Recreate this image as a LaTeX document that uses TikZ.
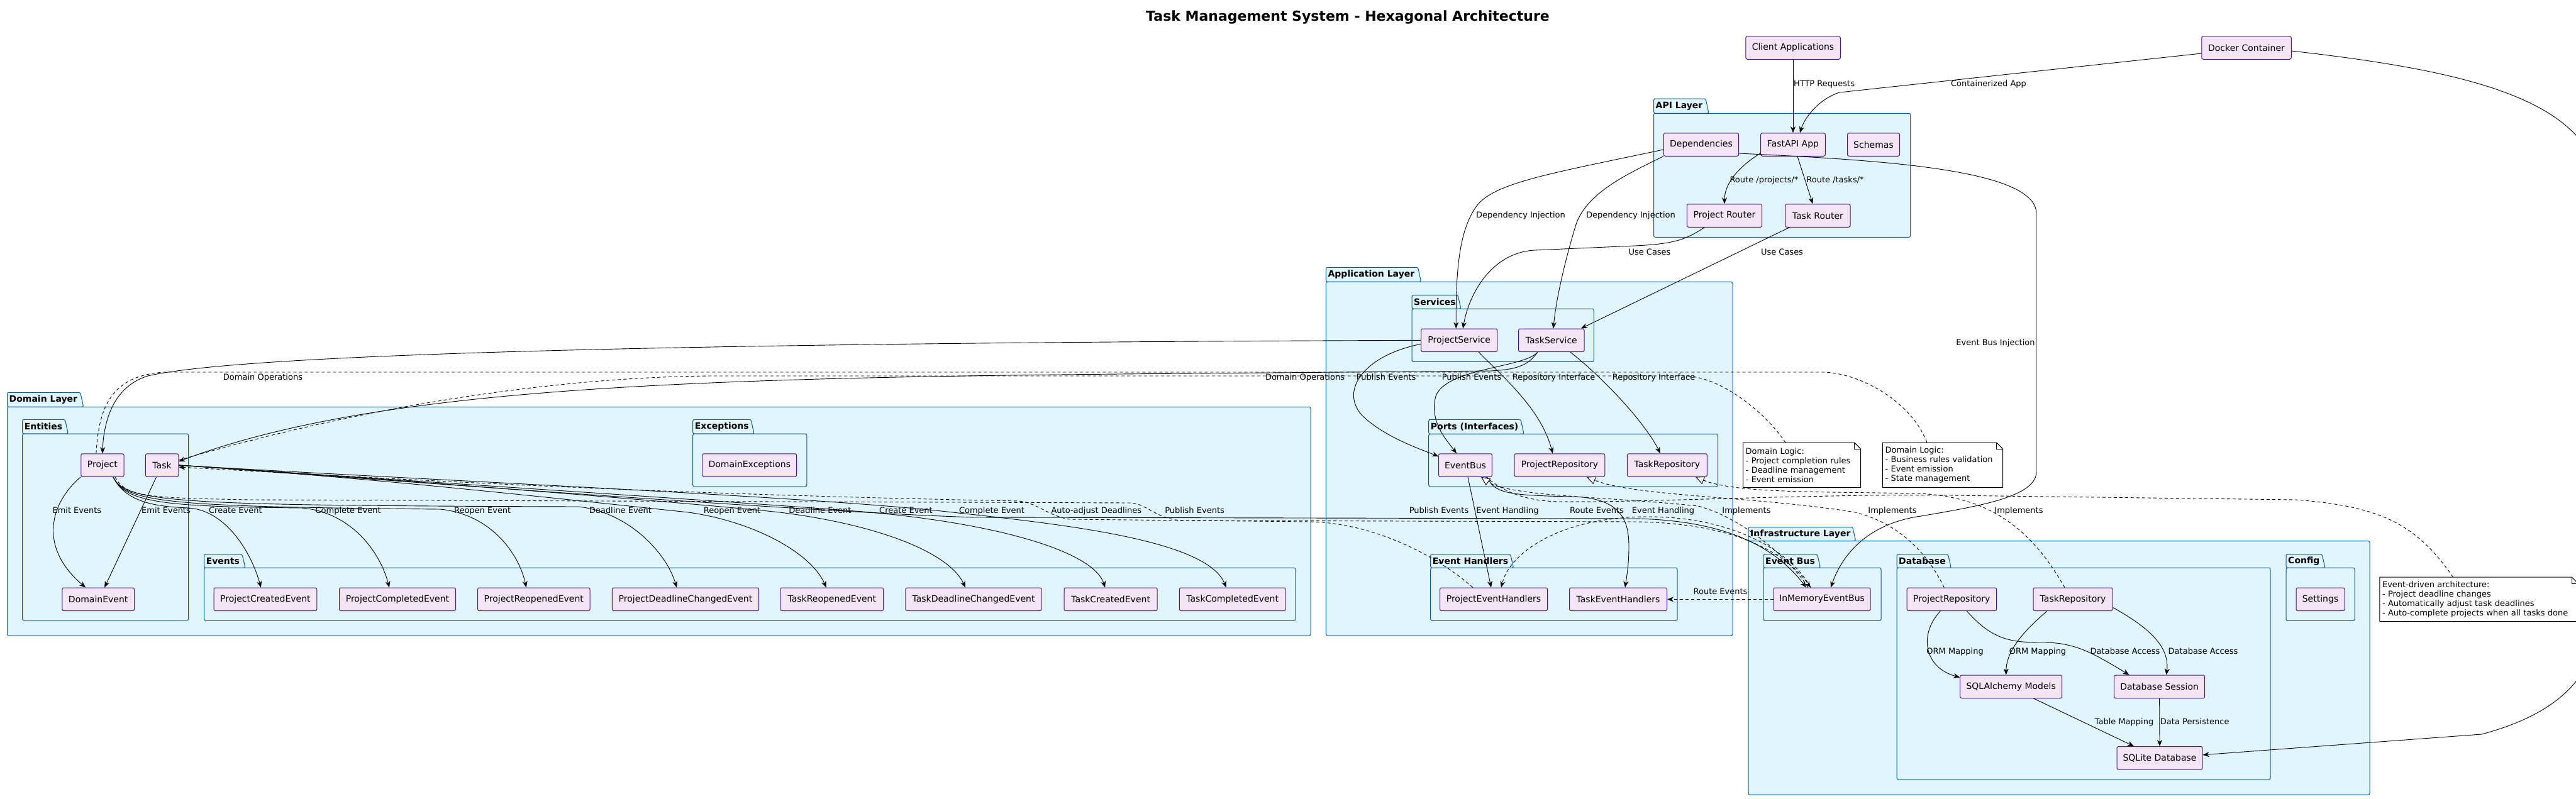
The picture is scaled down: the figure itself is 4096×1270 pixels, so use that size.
\documentclass[tikz,border=0pt]{standalone}
\usepackage{fontspec}
\setmainfont{DejaVu Sans}
\usetikzlibrary{arrows.meta}
\definecolor{nodef}{HTML}{F3E5F5}
\definecolor{nodeb}{HTML}{4A148C}
\definecolor{pkgf}{HTML}{E1F5FE}
\definecolor{pkgb}{HTML}{01579B}
\newcommand{\pkgbox}[8]{%
  \path[pkgshape, rounded corners=2.5pt] (#2,#5) -- (#2,#3) -- ({#4-5},#3) -- (#4,#5) -- cycle;
  \path[pkgshape, rounded corners=2.5pt] (#2,#5) rectangle (#6,#7);
  \node[pkgtitle, anchor=west] (#1) at ({#2+3},{(#3+#5)/2}) {#8};
}
\newcommand{\noteoutline}[1]{%
  \draw[noteline] (#1.north west) -- ([xshift=-10pt]#1.north east) -- ([yshift=-10pt]#1.north east) -- (#1.south east) -- (#1.south west) -- cycle;
  \draw[noteline] ([xshift=-10pt]#1.north east) -- ([xshift=-10pt,yshift=-10pt]#1.north east) -- ([yshift=-10pt]#1.north east);
}
\begin{document}
\begin{tikzpicture}[x=1pt,y=-1pt,
  pkgshape/.style={fill=pkgf, draw=pkgb, line width=1pt},
  pkgtitle/.style={font=\bfseries\fontsize{14}{16}\selectfont, inner sep=0pt},
  comp/.style={draw=nodeb, fill=nodef, rounded corners=2.5pt, minimum height=36.5pt, inner sep=0pt, line width=1pt, font=\fontsize{14}{16}\selectfont},
  lbl/.style={font=\fontsize{13}{15}\selectfont, inner sep=0pt, text height=9.5pt, text depth=2.5pt},
  notebox/.style={fill=white, draw=none, inner sep=0pt, font=\fontsize{13}{15}\selectfont, align=left},
  noteline/.style={draw=black, line width=1pt},
  edge/.style={line width=0.9pt, -{Stealth[length=10pt,width=8pt,inset=3pt]}},
  dedge/.style={edge, dash pattern=on 5pt off 4pt},
  impl/.style={line width=0.9pt, dash pattern=on 5pt off 4pt, -{Triangle[length=14pt,width=13pt,fill=white]}},
  notelink/.style={line width=0.9pt, dash pattern=on 5pt off 4pt},
]
\fill[white] (0,0) rectangle (4096,1270);
\useasboundingbox (0,0) rectangle (4096,1270);

\node[font=\bfseries\fontsize{22}{26}\selectfont, inner sep=0pt] (title) at (2143,28) {Task Management System - Hexagonal Architecture};

% packages
\pkgbox{pkAPI}{2629.5}{157}{2717}{180.3}{3037.6}{377.3}{API Layer}
\pkgbox{pkApp}{2108.4}{425.3}{2259.6}{448.3}{2755}{1011}{Application Layer}
\pkgbox{pkSvc}{2245}{469.3}{2323}{491.3}{2534.4}{575.3}{Services}
\pkgbox{pkPorts}{2271.7}{667.3}{2423}{690.3}{2731.5}{774}{Ports (Interfaces)}
\pkgbox{pkEH}{2274.6}{881.7}{2406.6}{903.3}{2667}{987.3}{Event Handlers}
\pkgbox{pkDom}{11.5}{624.3}{132.7}{647.3}{2084}{1011}{Domain Layer}
\pkgbox{pkEnt}{35.7}{667.3}{108.4}{690}{299.7}{987}{Entities}
\pkgbox{pkExc}{1101.7}{667.3}{1199}{690}{1282.8}{774}{Exceptions}
\pkgbox{pkEvt}{324.6}{881.7}{390}{903.3}{2059.8}{987.3}{Events}
\pkgbox{pkInf}{2780}{838.3}{2950.7}{860.5}{3768}{1264.3}{Infrastructure Layer}
\pkgbox{pkEB}{2804}{881.7}{2894.5}{903.3}{2991}{987.3}{Event Bus}
\pkgbox{pkDB}{3016}{881.7}{3102.4}{903.3}{3610}{1240}{Database}
\pkgbox{pkCfg}{3635}{881.7}{3697}{903.3}{3744}{987.3}{Config}

% nodes
\node[comp, minimum width=150.5pt] (client) at (2851,76) {Client Applications};
\node[comp, minimum width=142.5pt] (docker) at (3572,76) {Docker Container};
\node[comp, minimum width=119.3pt] (deps) at (2705,230) {Dependencies};
\node[comp, minimum width=102.7pt] (fastapi) at (2851,230) {FastAPI App};
\node[comp, minimum width=83pt] (schemas) at (2979,230) {Schemas};
\node[comp, minimum width=119.3pt] (prouter) at (2742,343) {Project Router};
\node[comp, minimum width=103.4pt] (trouter) at (2890.3,343) {Task Router};
\node[comp, minimum width=121.1pt] (psvc) at (2320.2,541.3) {ProjectService};
\node[comp, minimum width=104.5pt] (tsvc) at (2466.8,541.3) {TaskService};
\node[comp, minimum width=84.8pt] (ebus) at (2330,740) {EventBus};
\node[comp, minimum width=143.7pt] (pprepo) at (2479.9,740) {ProjectRepository};
\node[comp, minimum width=126.9pt] (ptrepo) at (2650.9,740) {TaskRepository};
\node[comp, minimum width=171pt] (peh) at (2375,953.3) {ProjectEventHandlers};
\node[comp, minimum width=155pt] (teh) at (2573,953.3) {TaskEventHandlers};
\node[comp, minimum width=154pt] (imeb) at (2897,953.3) {InMemoryEventBus};
\node[comp, minimum width=142.5pt] (iprepo) at (3103.3,953.3) {ProjectRepository};
\node[comp, minimum width=126pt] (itrepo) at (3296,953.3) {TaskRepository};
\node[comp, minimum width=77pt] (settings) at (3689.5,953.3) {Settings};
\node[comp, minimum width=162pt] (sqla) at (3197.7,1092.3) {SQLAlchemy Models};
\node[comp, minimum width=144.2pt] (dbsess) at (3433.6,1092.3) {Database Session};
\node[comp, minimum width=136pt] (sqlite) at (3434,1205.8) {SQLite Database};
\node[comp, minimum width=68.2pt] (project) at (162.9,740) {Project};
\node[comp, minimum width=52.3pt] (task) at (257.6,740) {Task};
\node[comp, minimum width=149.7pt] (domexc) at (1191.8,740) {DomainExceptions};
\node[comp, minimum width=114.7pt] (domevent) at (156.2,953.3) {DomainEvent};
\node[comp, minimum width=163.8pt] (pce) at (421.9,953.3) {ProjectCreatedEvent};
\node[comp, minimum width=185pt] (pcoe) at (632,953.3) {ProjectCompletedEvent};
\node[comp, minimum width=178.5pt] (pre) at (848.8,953.3) {ProjectReopenedEvent};
\node[comp, minimum width=233.3pt] (pdce) at (1090,953.3) {ProjectDeadlineChangedEvent};
\node[comp, minimum width=163.6pt] (tre) at (1322.8,953.3) {TaskReopenedEvent};
\node[comp, minimum width=216.3pt] (tdce) at (1548,953.3) {TaskDeadlineChangedEvent};
\node[comp, minimum width=148.2pt] (tce) at (1766.1,953.3) {TaskCreatedEvent};
\node[comp, minimum width=168.6pt] (tcoe) at (1959.7,953.3) {TaskCompletedEvent};

% notes
\node[notebox, minimum width=186.8pt, minimum height=71pt, text width=178.8pt] (note1) at (2865.1,739.8) {Domain Logic:\\- Project completion rules\\- Deadline management\\- Event emission};
\noteoutline{note1}
\node[notebox, minimum width=190.9pt, minimum height=71pt, text width=182.9pt] (note2) at (3089,739.8) {Domain Logic:\\- Business rules validation\\- Event emission\\- State management};
\noteoutline{note2}
\node[notebox, minimum width=315pt, minimum height=70pt, text width=307pt] (note3) at (3941.5,953.3) {Event-driven architecture:\\- Project deadline changes\\- Automatically adjust task deadlines\\- Auto-complete projects when all tasks done};
\noteoutline{note3}

% API edges
\draw[edge] (client.south) -- (fastapi.north);
\draw[edge] ([yshift=-9pt]docker.west) -- (2925,147) .. controls (2895,156) and (2870,185) .. ([xshift=11pt]fastapi.north);
\draw[edge] ([yshift=-5pt]docker.east) .. controls (3900,110) and (4080,150) .. (4125,260) -- (4130,1000) .. controls (4120,1090) and (4050,1140) .. (3946,1168) -- ([yshift=5pt]sqlite.east);
\draw[edge] ([yshift=5pt]fastapi.south west) .. controls (2760,268) and (2742,295) .. (prouter.north);
\draw[edge] ([xshift=7pt]fastapi.south) -- ([xshift=-8pt]trouter.north);
\draw[edge] ([xshift=-32pt]prouter.south) .. controls (2680,382) and (2660,388) .. (2600,391) -- (2440,398) .. controls (2370,402) and (2335,470) .. ([xshift=6pt]psvc.north);
\draw[edge] ([xshift=-45pt]trouter.south) -- ([xshift=47pt]tsvc.north);
\draw[edge] ([yshift=-8pt]deps.west) .. controls (2470,275) and (2380,290) .. (2350,325) .. controls (2318,365) and (2315,440) .. ([xshift=-5pt]psvc.north);
\draw[edge] (deps.south west) .. controls (2580,280) and (2520,310) .. (2505,360) .. controls (2490,410) and (2475,470) .. ([xshift=3pt]tsvc.north);
\draw[edge] ([yshift=-14pt]deps.east) .. controls (3000,255) and (3238,270) .. (3238,340) -- (3238,750) .. controls (3238,790) and (3150,805) .. (3042,823) .. controls (2970,837) and (2930,880) .. ([xshift=14pt]imeb.north);

% application edges
\draw[edge] (psvc.west) .. controls (1200,545) and (400,560) .. (235,598) .. controls (180,615) and (165,670) .. (project.north);
\draw[edge] ([xshift=-22pt]tsvc.south) .. controls (2430,582) and (2410,588) .. (2370,590) -- (1900,594) .. controls (1100,600) and (600,615) .. ([yshift=6pt]task.east);
\draw[edge] ([yshift=-6pt]psvc.west) .. controls (2170,565) and (2130,620) .. (2165,660) .. controls (2200,695) and (2260,715) .. ([yshift=14pt]ebus.west);
\draw[edge] ([xshift=-22pt]tsvc.south) .. controls (2425,585) and (2300,585) .. (2283,630) .. controls (2272,670) and (2300,700) .. ([xshift=-14pt]ebus.north);
\draw[edge] ([xshift=31pt]psvc.south) .. controls (2390,600) and (2450,650) .. ([xshift=-11pt]pprepo.north);
\draw[edge] ([xshift=30pt]tsvc.south) .. controls (2560,610) and (2620,680) .. ([xshift=-11pt]ptrepo.north);

% domain edges
\draw[edge] (project.south west) .. controls (80,800) and (60,870) .. ([xshift=-20pt]domevent.north);
\draw[edge] ([xshift=-9pt]task.south) -- ([xshift=10pt]domevent.north);
\draw[edge] ([xshift=17pt]project.south) .. controls (200,800) and (250,806) .. (300,808) .. controls (360,812) and (400,880) .. ([xshift=-7pt]pce.north);
\draw[edge] ([xshift=17pt]project.south) .. controls (200,800) and (260,806) .. (480,808) .. controls (560,815) and (605,880) .. ([xshift=-13pt]pcoe.north);
\draw[edge] ([xshift=17pt]project.south) .. controls (200,800) and (270,806) .. (700,810) .. controls (780,818) and (825,880) .. ([xshift=-12pt]pre.north);
\draw[edge] ([xshift=17pt]project.south) .. controls (200,800) and (280,804) .. (920,806) .. controls (1000,815) and (1060,880) .. ([xshift=-14pt]pdce.north);
\draw[edge] (task.east) .. controls (600,760) and (950,800) .. (1095,815) .. controls (1200,830) and (1290,880) .. ([xshift=-9pt]tre.north);
\draw[edge] (task.east) .. controls (600,760) and (1100,800) .. (1240,815) .. controls (1400,835) and (1510,880) .. ([xshift=-13pt]tdce.north);
\draw[edge] (task.east) .. controls (650,765) and (1200,800) .. (1385,815) .. controls (1600,835) and (1740,880) .. ([xshift=-9pt]tce.north);
\draw[edge] (task.east) .. controls (700,765) and (1300,790) .. (1515,815) .. controls (1700,835) and (1920,860) .. ([xshift=-10pt]tcoe.north);
\draw[edge] (task.east) .. controls (700,770) and (1300,815) .. (1550,823) -- (2600,825) .. controls (2760,828) and (2830,880) .. ([xshift=-25pt]imeb.north);
\draw[dedge] ([xshift=-33pt]peh.north) .. controls (2280,880) and (2180,832) .. (2084,830) -- (1700,826) .. controls (1665,820) and (1650,800) .. (1620,797) .. controls (1000,785) and (600,760) .. ([yshift=-3pt]task.east);
\draw[dedge] ([xshift=20pt]project.south) .. controls (200,790) and (230,792) .. (400,795) -- (1800,800) .. controls (1825,803) and (1840,826) .. (1880,828) -- (2600,830) .. controls (2760,832) and (2840,880) .. ([xshift=-18pt]imeb.north);

% event handling
\draw[edge] ([xshift=4pt]ebus.south) -- ([xshift=-4pt]peh.north);
\draw[edge] ([xshift=35pt]ebus.south) .. controls (2375,785) and (2400,788) .. (2500,790) .. controls (2580,792) and (2590,830) .. (2590,870) .. controls (2590,900) and (2586,920) .. ([xshift=11pt]teh.north);
\draw[dedge] ([xshift=-18pt]imeb.north) .. controls (2850,880) and (2760,822) .. (2620,822) .. controls (2480,822) and (2400,880) .. ([xshift=12pt]peh.north);
\draw[dedge] (imeb.west) -- (teh.east);
\draw[impl] ([xshift=-22pt]imeb.north) .. controls (2840,880) and (2760,820) .. (2700,805) .. controls (2560,790) and (2400,790) .. ([xshift=25pt]ebus.south);
\draw[impl] ([xshift=-12pt]iprepo.north) .. controls (3060,870) and (3010,830) .. (2950,815) .. controls (2800,790) and (2600,790) .. ([xshift=43pt]pprepo.south);
\draw[impl] ([xshift=-13pt]itrepo.north) .. controls (3240,860) and (3180,790) .. (3050,785) .. controls (2900,782) and (2760,785) .. ([xshift=45pt]ptrepo.south);

% database
\draw[edge] ([xshift=-18pt]iprepo.south) .. controls (3050,1010) and (3060,1062) .. ([yshift=-4pt]sqla.north west);
\draw[edge] ([xshift=24pt]iprepo.south) .. controls (3170,1020) and (3200,1022) .. (3250,1022) .. controls (3300,1022) and (3330,1040) .. ([xshift=-48pt]dbsess.north);
\draw[edge] ([xshift=-41pt]itrepo.south) .. controls (3210,1010) and (3190,1040) .. ([xshift=-8pt]sqla.north);
\draw[edge] ([yshift=-13pt]itrepo.east) .. controls (3420,1000) and (3450,1030) .. ([xshift=11pt]dbsess.north);
\draw[edge] ([xshift=36pt]sqla.south) -- ([xshift=-41pt]sqlite.north);
\draw[edge] (dbsess.south) -- (sqlite.north);

% note links
\draw[notelink] ([xshift=-10pt]project.north) .. controls (157,650) and (175,598) .. (260,592) -- (2900,592) .. controls (2960,594) and (3040,640) .. ([xshift=-25pt]note2.north);
\draw[notelink] ([yshift=8pt]task.east) .. controls (600,640) and (900,600) .. (1130,598) -- (2680,598) .. controls (2740,600) and (2810,660) .. ([xshift=-26pt]note1.north);
\draw[notelink] ([xshift=-41pt]note3.north) .. controls (3840,830) and (3780,805) .. (3650,795) -- (3100,788) .. controls (2900,785) and (2600,800) .. (2480,798) .. controls (2420,797) and (2390,780) .. ([xshift=32pt]ebus.south);

% labels
\node[lbl] (lb1) at (2900.5,134) {HTTP Requests};
\node[lbl] (lb2) at (3162,134) {Containerized App};
\node[lbl] (lb3) at (2805,287) {Route /projects/*};
\node[lbl] (lb4) at (2918,287) {Route /tasks/*};
\node[lbl] (lb5) at (2418,343) {Dependency Injection};
\node[lbl] (lb6) at (2593,343) {Dependency Injection};
\node[lbl] (lb7) at (2623,402) {Use Cases};
\node[lbl] (lb8) at (2833.5,402) {Use Cases};
\node[lbl] (lb9) at (3173,546) {Event Bus Injection};
\node[lbl] (lb10) at (418,601) {Domain Operations};
\node[lbl] (lb11) at (2075,601) {Domain Operations};
\node[lbl] (lb12) at (2204,601) {Publish Events};
\node[lbl] (lb13) at (2340,601) {Publish Events};
\node[lbl] (lb14) at (2470.7,601) {Repository Interface};
\node[lbl] (lb15) at (2629.5,601) {Repository Interface};
\node[lbl] (lb16) at (122.4,813.3) {Emit Events};
\node[lbl] (lb17) at (264,813.3) {Emit Events};
\node[lbl] (lb18) at (374.4,813.3) {Create Event};
\node[lbl] (lb19) at (553.6,813.3) {Complete Event};
\node[lbl] (lb20) at (767.2,813.3) {Reopen Event};
\node[lbl] (lb21) at (986.5,813.3) {Deadline Event};
\node[lbl] (lb22) at (1164,813.3) {Reopen Event};
\node[lbl] (lb23) at (1304,813.3) {Deadline Event};
\node[lbl] (lb24) at (1440.5,813.3) {Create Event};
\node[lbl] (lb25) at (1577,813.3) {Complete Event};
\node[lbl] (lb26) at (1743.4,813.3) {Auto-adjust Deadlines};
\node[lbl] (lb27) at (1899.6,813.3) {Publish Events};
\node[lbl] (lb28) at (2288,813.3) {Publish Events};
\node[lbl] (lb29) at (2397,813.3) {Event Handling};
\node[lbl] (lb30) at (2539,813.3) {Route Events};
\node[lbl] (lb31) at (2644.5,813.3) {Event Handling};
\node[lbl] (lb32) at (2777,813.3) {Implements};
\node[lbl] (lb33) at (3009,813.3) {Implements};
\node[lbl] (lb34) at (3210,813.3) {Implements};
\node[lbl] (lb35) at (2735.5,941.7) {Route Events};
\node[lbl] (lb36) at (3108.6,1036.7) {ORM Mapping};
\node[lbl] (lb37) at (3240,1036.7) {ORM Mapping};
\node[lbl] (lb38) at (3379,1036.7) {Database Access};
\node[lbl] (lb39) at (3503,1036.7) {Database Access};
\node[lbl] (lb40) at (3377.5,1149) {Table Mapping};
\node[lbl] (lb41) at (3489.7,1149) {Data Persistence};
\end{tikzpicture}
\end{document}
